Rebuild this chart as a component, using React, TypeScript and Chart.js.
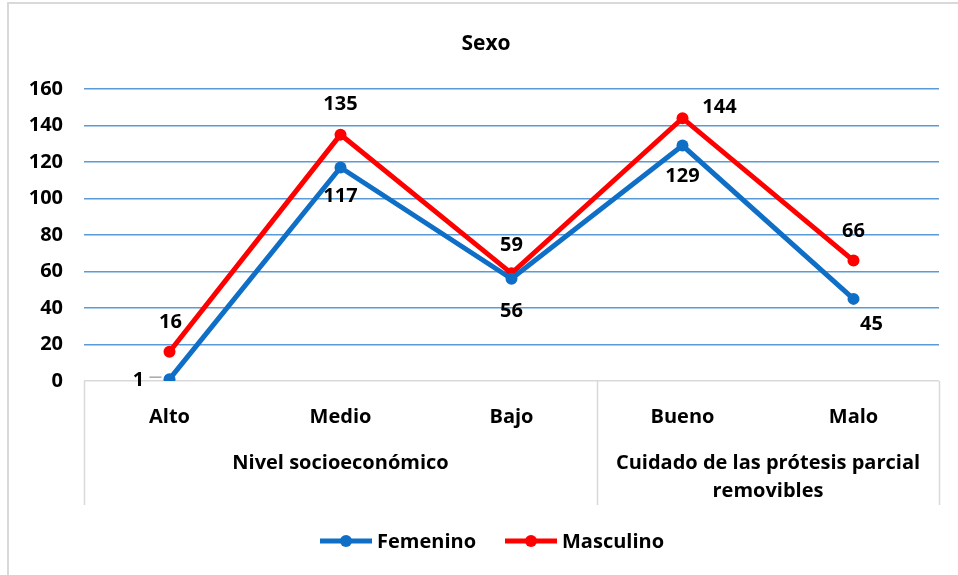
import React, { useEffect, useRef } from "react";
import { Chart, registerables } from "chart.js";

Chart.register(...registerables);

const categories = ["Alto", "Medio", "Bajo", "Bueno", "Malo"];
const groups = [
  { label: ["Nivel socioeconómico"], span: 3 },
  { label: ["Cuidado de las prótesis parcial", "removibles"], span: 2 },
];
const femenino = [1, 117, 56, 129, 45];
const masculino = [16, 135, 59, 144, 66];
const yTicks = [0, 20, 40, 60, 80, 100, 120, 140, 160];
const titleText = "Sexo";
const seriesNames = ["Femenino", "Masculino"];

const BLUE = "#0F6FC6";
const RED = "#FF0000";
const FONT = "'Open Sans', 'Noto Sans', sans-serif";
const FS = 20;

// label placement per point: [dx, dy]
const femPlace: [number, number][] = [
  [-31, 1],
  [0, 29],
  [0, 32],
  [0, 31],
  [18, 25],
];
const masPlace: [number, number][] = [
  [1, -30],
  [0, -30],
  [0, -28],
  [37, -11],
  [0, -29],
];

const overlay = {
  id: "overlay",
  afterDraw(chart: any) {
    const { ctx, chartArea, scales } = chart;
    const x = scales.x;
    ctx.save();
    // outer border
    ctx.strokeStyle = "#d9d9d9";
    ctx.lineWidth = 2;
    ctx.beginPath();
    ctx.moveTo(8, 575);
    ctx.lineTo(8, 3);
    ctx.lineTo(958, 3);
    ctx.stroke();

    // title
    ctx.fillStyle = "#000";
    ctx.font = `bold ${FS + 1}px ${FONT}`;
    ctx.textAlign = "center";
    ctx.textBaseline = "middle";
    ctx.fillText(titleText, 486, 44);

    // category separators
    const step = (chartArea.right - chartArea.left) / categories.length;
    const axBottom = x.bottom;
    ctx.strokeStyle = "#d9d9d9";
    ctx.lineWidth = 1.5;
    let idx = 0;
    const bounds = [0];
    groups.forEach((g) => {
      idx += g.span;
      bounds.push(idx);
    });
    bounds.forEach((b) => {
      const px = Math.round(chartArea.left + b * step) + 0.5;
      ctx.beginPath();
      ctx.moveTo(px, chartArea.bottom);
      ctx.lineTo(px, axBottom);
      ctx.stroke();
    });

    // group labels
    ctx.fillStyle = "#000";
    ctx.font = `bold ${FS}px ${FONT}`;
    ctx.textAlign = "center";
    ctx.textBaseline = "middle";
    groups.forEach((g, i) => {
      const cx = chartArea.left + ((bounds[i] + bounds[i + 1]) / 2) * step;
      g.label.forEach((line, j) => {
        ctx.fillText(line, cx, 463 + j * 28);
      });
    });

    // data labels
    ctx.font = `bold ${FS}px ${FONT}`;
    const drawLabels = (dsIndex: number, place: [number, number][]) => {
      const meta = chart.getDatasetMeta(dsIndex);
      const data = chart.data.datasets[dsIndex].data;
      meta.data.forEach((pt: any, i: number) => {
        const [dx, dy] = place[i];
        ctx.fillStyle = "#000";
        ctx.fillText(String(data[i]), pt.x + dx, pt.y + dy);
        if (dsIndex === 0 && i === 0) {
          ctx.strokeStyle = "#a6a6a6";
          ctx.lineWidth = 1.5;
          ctx.beginPath();
          ctx.moveTo(pt.x - 20, pt.y - 2);
          ctx.lineTo(pt.x - 8, pt.y - 2);
          ctx.stroke();
        }
      });
    };
    drawLabels(0, femPlace);
    drawLabels(1, masPlace);

    // legend
    const items = [
      { name: seriesNames[0], color: BLUE, x0: 320 },
      { name: seriesNames[1], color: RED, x0: 505 },
    ];
    const ly = 541;
    items.forEach((it) => {
      ctx.strokeStyle = it.color;
      ctx.lineWidth = 5;
      ctx.beginPath();
      ctx.moveTo(it.x0, ly);
      ctx.lineTo(it.x0 + 52, ly);
      ctx.stroke();
      ctx.fillStyle = it.color;
      ctx.beginPath();
      ctx.arc(it.x0 + 26, ly, 6, 0, Math.PI * 2);
      ctx.fill();
      ctx.fillStyle = "#000";
      ctx.font = `bold ${FS}px ${FONT}`;
      ctx.textAlign = "left";
      ctx.fillText(it.name, it.x0 + 57, ly + 1);
    });
    ctx.restore();
  },
};

export default function App() {
  const ref = useRef<HTMLCanvasElement | null>(null);
  useEffect(() => {
    if (!ref.current) return;
    const chart = new Chart(ref.current, {
      type: "line",
      data: {
        labels: categories,
        datasets: [
          {
            label: seriesNames[0],
            data: femenino,
            borderColor: BLUE,
            backgroundColor: BLUE,
            borderWidth: 5,
            pointRadius: 6,
            pointBorderWidth: 0,
            tension: 0,
          },
          {
            label: seriesNames[1],
            data: masculino,
            borderColor: RED,
            backgroundColor: RED,
            borderWidth: 5,
            pointRadius: 6,
            pointBorderWidth: 0,
            tension: 0,
          },
        ],
      },
      options: {
        animation: false,
        responsive: true,
        maintainAspectRatio: false,
        layout: { padding: { top: 89, left: 0, right: 19, bottom: 70 } },
        plugins: {
          legend: { display: false },
          title: { display: false },
          tooltip: { enabled: false },
        },
        scales: {
          x: {
            offset: true,
            grid: { display: false },
            border: { display: false },
            ticks: {
              color: "#000",
              font: { family: FONT, size: FS, weight: "bold" },
              padding: 16,
              maxRotation: 0,
            },
            afterFit(scale: any) {
              scale.height = 124;
            },
          },
          y: {
            min: 0,
            max: 160,
            afterBuildTicks(scale: any) {
              scale.ticks = yTicks.map((v) => ({ value: v }));
            },
            grid: {
              drawTicks: false,
              lineWidth: 1.5,
              color: (c: any) => (c.tick && c.tick.value === 0 ? "#d9d9d9" : "#5B9BD5"),
            },
            border: { display: false },
            ticks: {
              color: "#000",
              font: { family: FONT, size: FS, weight: "bold" },
              padding: 21,
            },
            afterFit(scale: any) {
              scale.width = 84;
            },
          },
        },
      },
      plugins: [overlay],
    });
    return () => chart.destroy();
  }, []);
  return (
    <div style={{ position: "absolute", left: 0, top: 0, width: 958, height: 575, background: "#fff" }}>
      <canvas ref={ref} />
    </div>
  );
}
